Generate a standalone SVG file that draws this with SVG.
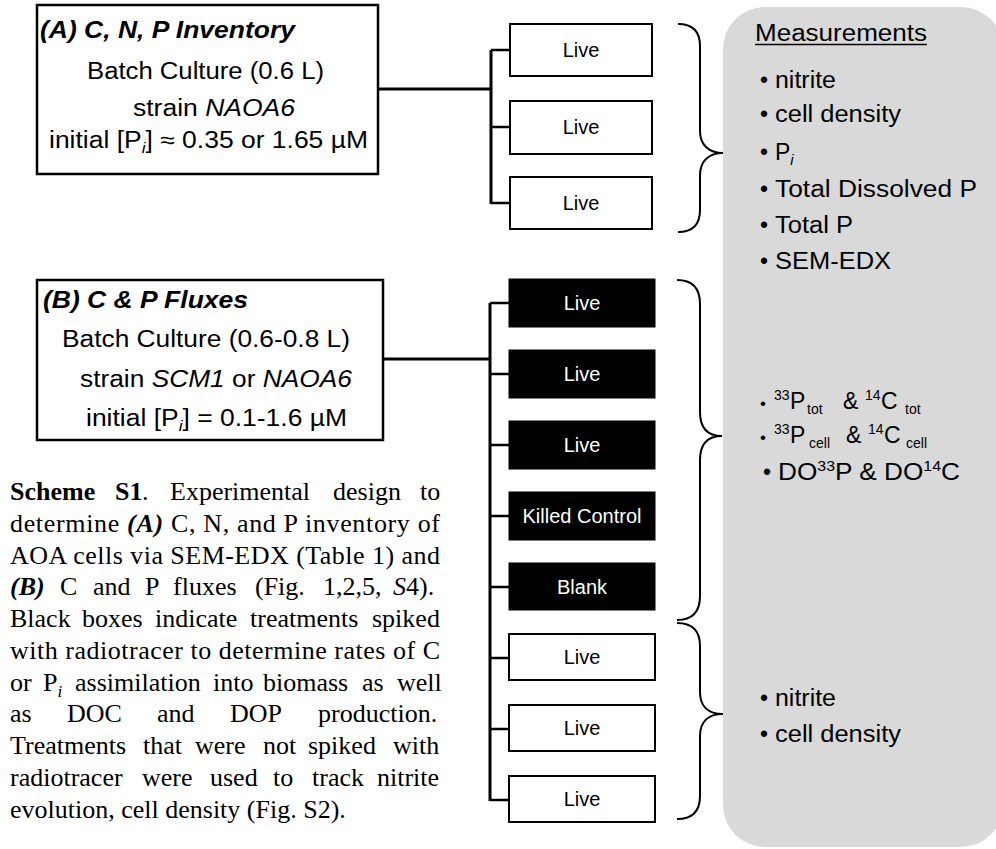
<svg xmlns="http://www.w3.org/2000/svg" width="996" height="849" viewBox="0 0 996 849">
<style>
.s{font-family:"Liberation Sans",Arial,sans-serif;font-size:23px;fill:#000}
.bi{font-weight:bold;font-style:italic}
.it{font-style:italic}
.bx{font-family:"Liberation Sans",Arial,sans-serif;font-size:20px;text-anchor:middle}
.cap{font-family:"Liberation Serif","Times New Roman",serif;font-size:26px;fill:#000}
.frame{fill:#fff;stroke:#000;stroke-width:2.5}
.wbox{fill:#fff;stroke:#000;stroke-width:2}
.kbox{fill:#000;stroke:#000;stroke-width:1}
.trunk{fill:none;stroke:#000;stroke-width:3}
.br{fill:none;stroke:#000;stroke-width:2.5}
.brace{fill:none;stroke:#000;stroke-width:2}
.sm{font-size:14px}
</style>
<rect id="panel" x="723" y="7" width="280" height="840" rx="42" fill="#d9d9d9"/>
<g id="connectors">
<path class="trunk" d="M378,89 H491 M491,50 V204"/>
<path class="br" d="M491,50 H510 M491,127 H510 M491,203 H510"/>
<path class="trunk" d="M383,359 H490 M490,303 V801"/>
<path class="br" d="M490,303 H509 M490,374 H509 M490,445 H509 M490,516 H509 M490,587 H509 M490,658 H509 M490,729 H509 M490,800 H509"/>
<path class="brace" d="M678,24 C693,24 700,31 700,46 L700,131 C700,145 709,153 723,153 C709,153 700,161 700,175 L700,210 C700,225 693,232 678,232"/>
<path class="brace" d="M677,280 C692,280 700,288 700,304 L700,412 C700,428 708,436 722,436 C708,436 700,444 700,460 L700,596 C700,612 692,620 677,620"/>
<path class="brace" d="M677,623 C692,623 700,631 700,646 L700,692 C700,706 708,714 723,714 C708,714 700,722 700,736 L700,796 C700,812 692,819 677,819"/>
</g>
<g id="boxA">
<rect class="frame" x="37" y="5" width="341" height="169"/>
<text class="s bi" x="40" y="38" textLength="255" lengthAdjust="spacingAndGlyphs">(A) C, N, P Inventory</text>
<text class="s" x="87" y="79" textLength="237" lengthAdjust="spacingAndGlyphs">Batch Culture  (0.6 L)</text>
<text class="s" x="133" y="116" textLength="162" lengthAdjust="spacingAndGlyphs">strain <tspan class="it">NAOA6</tspan></text>
<text class="s" x="49" y="148" textLength="319" lengthAdjust="spacingAndGlyphs">initial [P<tspan class="it" font-size="15" dy="5">i</tspan><tspan dy="-5">] ≈ 0.35 or 1.65 µM</tspan></text>
</g>
<g id="boxB">
<rect class="frame" x="37" y="280" width="346" height="160"/>
<text class="s bi" x="43" y="308" textLength="205" lengthAdjust="spacingAndGlyphs">(B) C &amp; P Fluxes</text>
<text class="s" x="62" y="347" textLength="288" lengthAdjust="spacingAndGlyphs">Batch Culture  (0.6-0.8 L)</text>
<text class="s" x="80" y="387" textLength="272" lengthAdjust="spacingAndGlyphs">strain <tspan class="it">SCM1</tspan> or <tspan class="it">NAOA6</tspan></text>
<text class="s" x="86" y="426" textLength="261" lengthAdjust="spacingAndGlyphs">initial [P<tspan class="it" font-size="15" dy="5">i</tspan><tspan dy="-5">] = 0.1-1.6 µM</tspan></text>
</g>
<g id="liveA1"><rect class="wbox" x="510" y="24" width="142" height="52"/><text class="bx" x="581" y="57">Live</text></g>
<g id="liveA2"><rect class="wbox" x="510" y="101" width="142" height="53"/><text class="bx" x="581" y="134">Live</text></g>
<g id="liveA3"><rect class="wbox" x="510" y="177" width="142" height="52"/><text class="bx" x="581" y="210">Live</text></g>
<g id="liveB1"><rect class="kbox" x="509" y="279" width="146" height="48"/><text class="bx" x="582" y="310" fill="#fff">Live</text></g>
<g id="liveB2"><rect class="kbox" x="509" y="350" width="146" height="48"/><text class="bx" x="582" y="381" fill="#fff">Live</text></g>
<g id="liveB3"><rect class="kbox" x="509" y="421" width="146" height="48"/><text class="bx" x="582" y="452" fill="#fff">Live</text></g>
<g id="killed"><rect class="kbox" x="509" y="492" width="146" height="48"/><text class="bx" x="582" y="523" fill="#fff">Killed Control</text></g>
<g id="blank"><rect class="kbox" x="509" y="563" width="146" height="47"/><text class="bx" x="582" y="594" fill="#fff">Blank</text></g>
<g id="liveC1"><rect class="wbox" x="509" y="634" width="146" height="46"/><text class="bx" x="582" y="664">Live</text></g>
<g id="liveC2"><rect class="wbox" x="509" y="705" width="146" height="46"/><text class="bx" x="582" y="735">Live</text></g>
<g id="liveC3"><rect class="wbox" x="509" y="776" width="146" height="46"/><text class="bx" x="582" y="806">Live</text></g>
<g id="measurements">
<text class="s" x="755" y="41" textLength="172" lengthAdjust="spacingAndGlyphs">Measurements</text>
<line x1="755" y1="44.5" x2="927" y2="44.5" stroke="#000" stroke-width="1.5"/>
<g class="s">
<text x="760" y="88">•</text><text x="775" y="88" textLength="61" lengthAdjust="spacingAndGlyphs">nitrite</text>
<text x="760" y="122">•</text><text x="775" y="122" textLength="126" lengthAdjust="spacingAndGlyphs">cell density</text>
<text x="760" y="160">•</text><text x="775" y="160">P<tspan class="it" font-size="15" dy="5">i</tspan></text>
<text x="760" y="197">•</text><text x="775" y="197" textLength="202" lengthAdjust="spacingAndGlyphs">Total Dissolved  P</text>
<text x="760" y="233">•</text><text x="775" y="233" textLength="78" lengthAdjust="spacingAndGlyphs">Total P</text>
<text x="760" y="269">•</text><text x="775" y="269" textLength="116" lengthAdjust="spacingAndGlyphs">SEM-EDX</text>
</g>
<g class="s">
<text x="760" y="409" font-size="17">•</text>
<text x="774" y="400" class="sm">33</text><text x="790" y="409">P</text><text x="807" y="414" class="sm">tot</text>
<text x="843" y="409">&amp;</text>
<text x="865" y="400" class="sm">14</text><text x="881" y="409">C</text><text x="905" y="414" class="sm">tot</text>
<text x="760" y="443" font-size="17">•</text>
<text x="774" y="434" class="sm">33</text><text x="790" y="443">P</text><text x="809" y="448" class="sm">cell</text>
<text x="846" y="443">&amp;</text>
<text x="868" y="434" class="sm">14</text><text x="884" y="443">C</text><text x="906" y="448" class="sm">cell</text>
<text x="763" y="480">•</text>
<text x="778" y="480" textLength="182" lengthAdjust="spacingAndGlyphs">DO<tspan class="sm" dy="-9">33</tspan><tspan dy="9">P &amp; DO</tspan><tspan class="sm" dy="-9">14</tspan><tspan dy="9">C</tspan></text>
</g>
<g class="s">
<text x="760" y="706">•</text><text x="775" y="706" textLength="61" lengthAdjust="spacingAndGlyphs">nitrite</text>
<text x="760" y="742">•</text><text x="775" y="742" textLength="126" lengthAdjust="spacingAndGlyphs">cell density</text>
</g>
</g>
<g id="caption" class="cap">
<text y="500"><tspan x="10" font-weight="bold">Scheme</tspan><tspan x="115" font-weight="bold">S1</tspan><tspan x="142">.</tspan><tspan x="170">Experimental</tspan><tspan x="333">design</tspan><tspan x="420">to</tspan></text>
<text x="10" y="532" textLength="430" lengthAdjust="spacing">determine <tspan font-weight="bold" font-style="italic">(A)</tspan> C, N, and P inventory of</text>
<text x="10" y="564" textLength="430" lengthAdjust="spacing">AOA cells via SEM-EDX (Table 1) and</text>
<text y="595"><tspan x="10" font-weight="bold" font-style="italic">(B)</tspan><tspan x="60">C</tspan><tspan x="93">and</tspan><tspan x="145">P</tspan><tspan x="173">fluxes</tspan><tspan x="255">(Fig.</tspan><tspan x="323">1,2,5,</tspan><tspan x="393" font-style="italic">S</tspan><tspan>4).</tspan></text>
<text y="627"><tspan x="10">Black</tspan><tspan x="82">boxes</tspan><tspan x="155">indicate</tspan><tspan x="250">treatments</tspan><tspan x="372">spiked</tspan></text>
<text x="10" y="659" textLength="430" lengthAdjust="spacing">with radiotracer to determine rates of C</text>
<text y="691"><tspan x="10">or</tspan><tspan x="43">P</tspan><tspan font-style="italic" font-size="17" dy="6">i</tspan><tspan x="75" dy="-6">assimilation</tspan><tspan x="213">into</tspan><tspan x="263">biomass</tspan><tspan x="362">as</tspan><tspan x="397">well</tspan></text>
<text y="722"><tspan x="10">as</tspan><tspan x="67">DOC</tspan><tspan x="157">and</tspan><tspan x="230">DOP</tspan><tspan x="318">production.</tspan></text>
<text y="754"><tspan x="10">Treatments</tspan><tspan x="143">that</tspan><tspan x="195">were</tspan><tspan x="263">not</tspan><tspan x="308">spiked</tspan><tspan x="393">with</tspan></text>
<text y="786"><tspan x="10">radiotracer</tspan><tspan x="142">were</tspan><tspan x="210">used</tspan><tspan x="273">to</tspan><tspan x="312">track</tspan><tspan x="377">nitrite</tspan></text>
<text x="10" y="818">evolution, cell density (Fig. S2).</text>
</g>
</svg>
